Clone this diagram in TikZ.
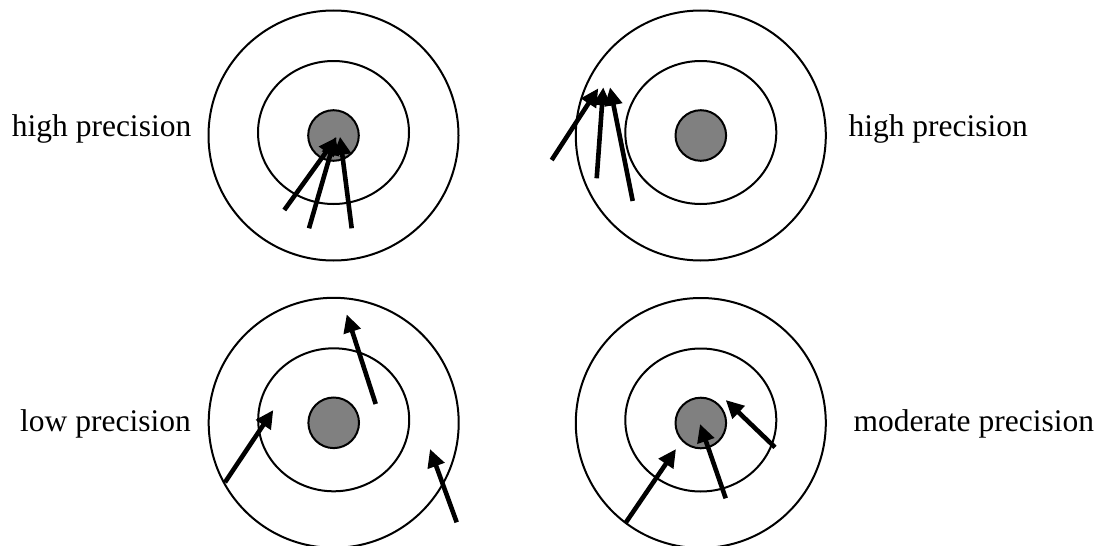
\documentclass[tikz,border=0pt]{standalone}
\usepackage{fontspec}
\setmainfont{Liberation Serif}
\usetikzlibrary{arrows.meta}
\begin{document}
\begin{tikzpicture}[x=1pt,y=-1pt,
  ring/.style={draw=black,line width=2pt},
  bull/.style={draw=black,line width=2pt,fill=black!50},
  shot/.style={line width=4.6pt,-{Triangle[length=18pt,width=17pt]}},
  lbl/.style={inner sep=0pt,anchor=base west,font=\fontsize{31.5}{36}\selectfont}]
\useasboundingbox (0,0) rectangle (1096,546);
% targets
\foreach \n/\cx/\cy in {A/333.5/135.5, B/700.8/135.5, C/333.7/422.8, D/700.8/423}{
  \draw[ring] (\cx,\cy) ellipse [x radius=125pt, y radius=125pt];
  \draw[ring] (\cx,\cy-3) ellipse [x radius=75.5pt, y radius=71.5pt];
  \draw[bull] (\cx,\cy) circle [radius=25.3pt];
}
% labels
\node[lbl] (l1) at (11.7,136.7) {high precision};
\node[lbl] (l2) at (848.3,136.7) {high precision};
\node[lbl] (l3) at (20,431.7) {low precision};
\node[lbl] (l4) at (853.3,431.7) {moderate precision};
% top-left shots
\coordinate (a1s) at (284.3,210);   \coordinate (a1e) at (336.7,137.3);
\coordinate (a2s) at (309,228.3);   \coordinate (a2e) at (335.5,136.7);
\coordinate (a3s) at (351.7,228.3); \coordinate (a3e) at (340,136.7);
\draw[shot] (a1s) -- (a1e);
\draw[shot] (a2s) -- (a2e);
\draw[shot] (a3s) -- (a3e);
% top-right shots
\coordinate (b1s) at (551.7,160);   \coordinate (b1e) at (598.3,88.3);
\coordinate (b2s) at (596.7,178.3); \coordinate (b2e) at (603.3,87.3);
\coordinate (b3s) at (632.7,201);   \coordinate (b3e) at (610,87.3);
\draw[shot] (b1s) -- (b1e);
\draw[shot] (b2s) -- (b2e);
\draw[shot] (b3s) -- (b3e);
% bottom-left shots
\coordinate (c1s) at (225,482.3);   \coordinate (c1e) at (273.3,410);
\coordinate (c2s) at (375.7,404);   \coordinate (c2e) at (346.7,314.3);
\coordinate (c3s) at (456.7,522.3); \coordinate (c3e) at (430,449);
\draw[shot] (c1s) -- (c1e);
\draw[shot] (c2s) -- (c2e);
\draw[shot] (c3s) -- (c3e);
% bottom-right shots
\coordinate (d1s) at (626,522.3);   \coordinate (d1e) at (676,449);
\coordinate (d2s) at (725.7,498.3); \coordinate (d2e) at (700,424);
\coordinate (d3s) at (775,447.3);   \coordinate (d3e) at (725.7,400);
\draw[shot] (d1s) -- (d1e);
\draw[shot] (d2s) -- (d2e);
\draw[shot] (d3s) -- (d3e);
\end{tikzpicture}
\end{document}
